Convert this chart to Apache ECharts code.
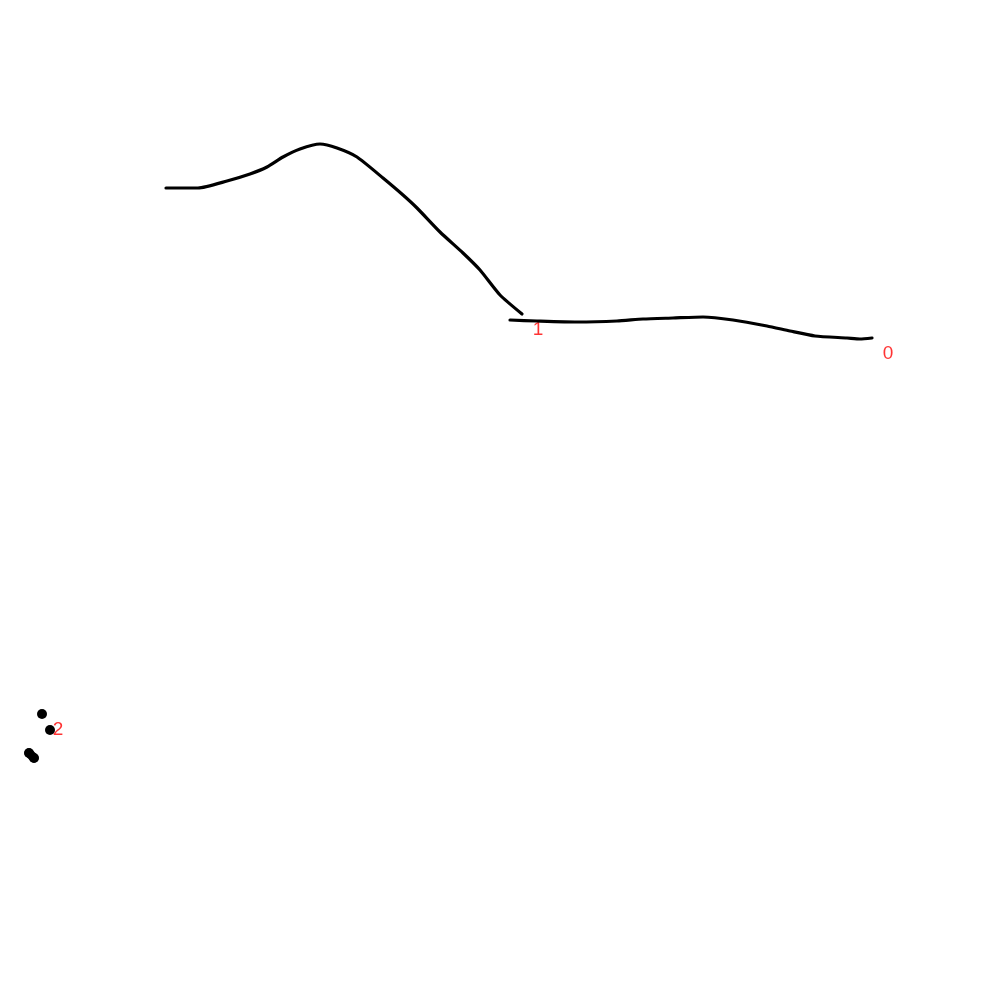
<!DOCTYPE html>
<html><head><meta charset="utf-8">
<script src="https://cdn.jsdelivr.net/npm/echarts@6/dist/echarts.min.js"></script>
<style>html,body{margin:0;padding:0;background:#fff}#c{width:1000px;height:1000px}</style>
</head><body><div id="c"></div>
<script>
var stroke0 = [[510,320],[537,321],[577,322],[617,321],[643,319],[673,318],[703,317],[733,320],[767,326],[790,331],[815,336],[847,338],[860,339],[872,338]];
var stroke1 = [[166,188],[198,188],[227,181],[250,174],[267,167],[283,157],[300,149],[320,144],[337,148],[357,157],[383,178],[403,195],[417,208],[440,232],[463,253],[480,270],[500,295],[522,314]];
var stroke2 = [[29,753],[34,758],null,[50,730],null,[42,714]];
var strokeNames = ['0','1','2'];
var strokes = [stroke0, stroke1, stroke2];

var series = [];
strokes.forEach(function(s, i){
  series.push({
    type:'line', data:s, connectNulls:false, smooth:0.2,
    symbol: i===2 ? 'circle' : 'none', symbolSize: 10, showAllSymbol:true,
    itemStyle:{color:'#000'},
    lineStyle:{color:'#000', width: i===2 ? 9 : 3.2, cap:'round', join:'round'},
    silent:true, animation:false
  });
});
var labelData = strokes.map(function(s, i){
  var pts = s.filter(function(p){return p;});
  var last = pts[pts.length-1];
  return {value:last, name:strokeNames[i]};
});
series.push({
  type:'scatter', data:labelData, symbol:'circle', symbolSize:2, itemStyle:{color:'rgba(0,0,0,0)'}, animation:false, silent:true,
  label:{show:true, position:'inside', offset:[16,16], formatter:'{b}', color:'#ff0000', fontSize:19, fontFamily:'Liberation Sans', fontWeight:'normal'}
});

var chart = echarts.init(document.getElementById('c'), null, {renderer:'canvas'});
chart.setOption({
  backgroundColor:'#fff',
  animation:false,
  grid:{left:0,right:0,top:0,bottom:0},
  xAxis:{type:'value',min:0,max:1000,show:false},
  yAxis:{type:'value',min:0,max:1000,inverse:true,show:false},
  series:series
});
</script></body></html>
